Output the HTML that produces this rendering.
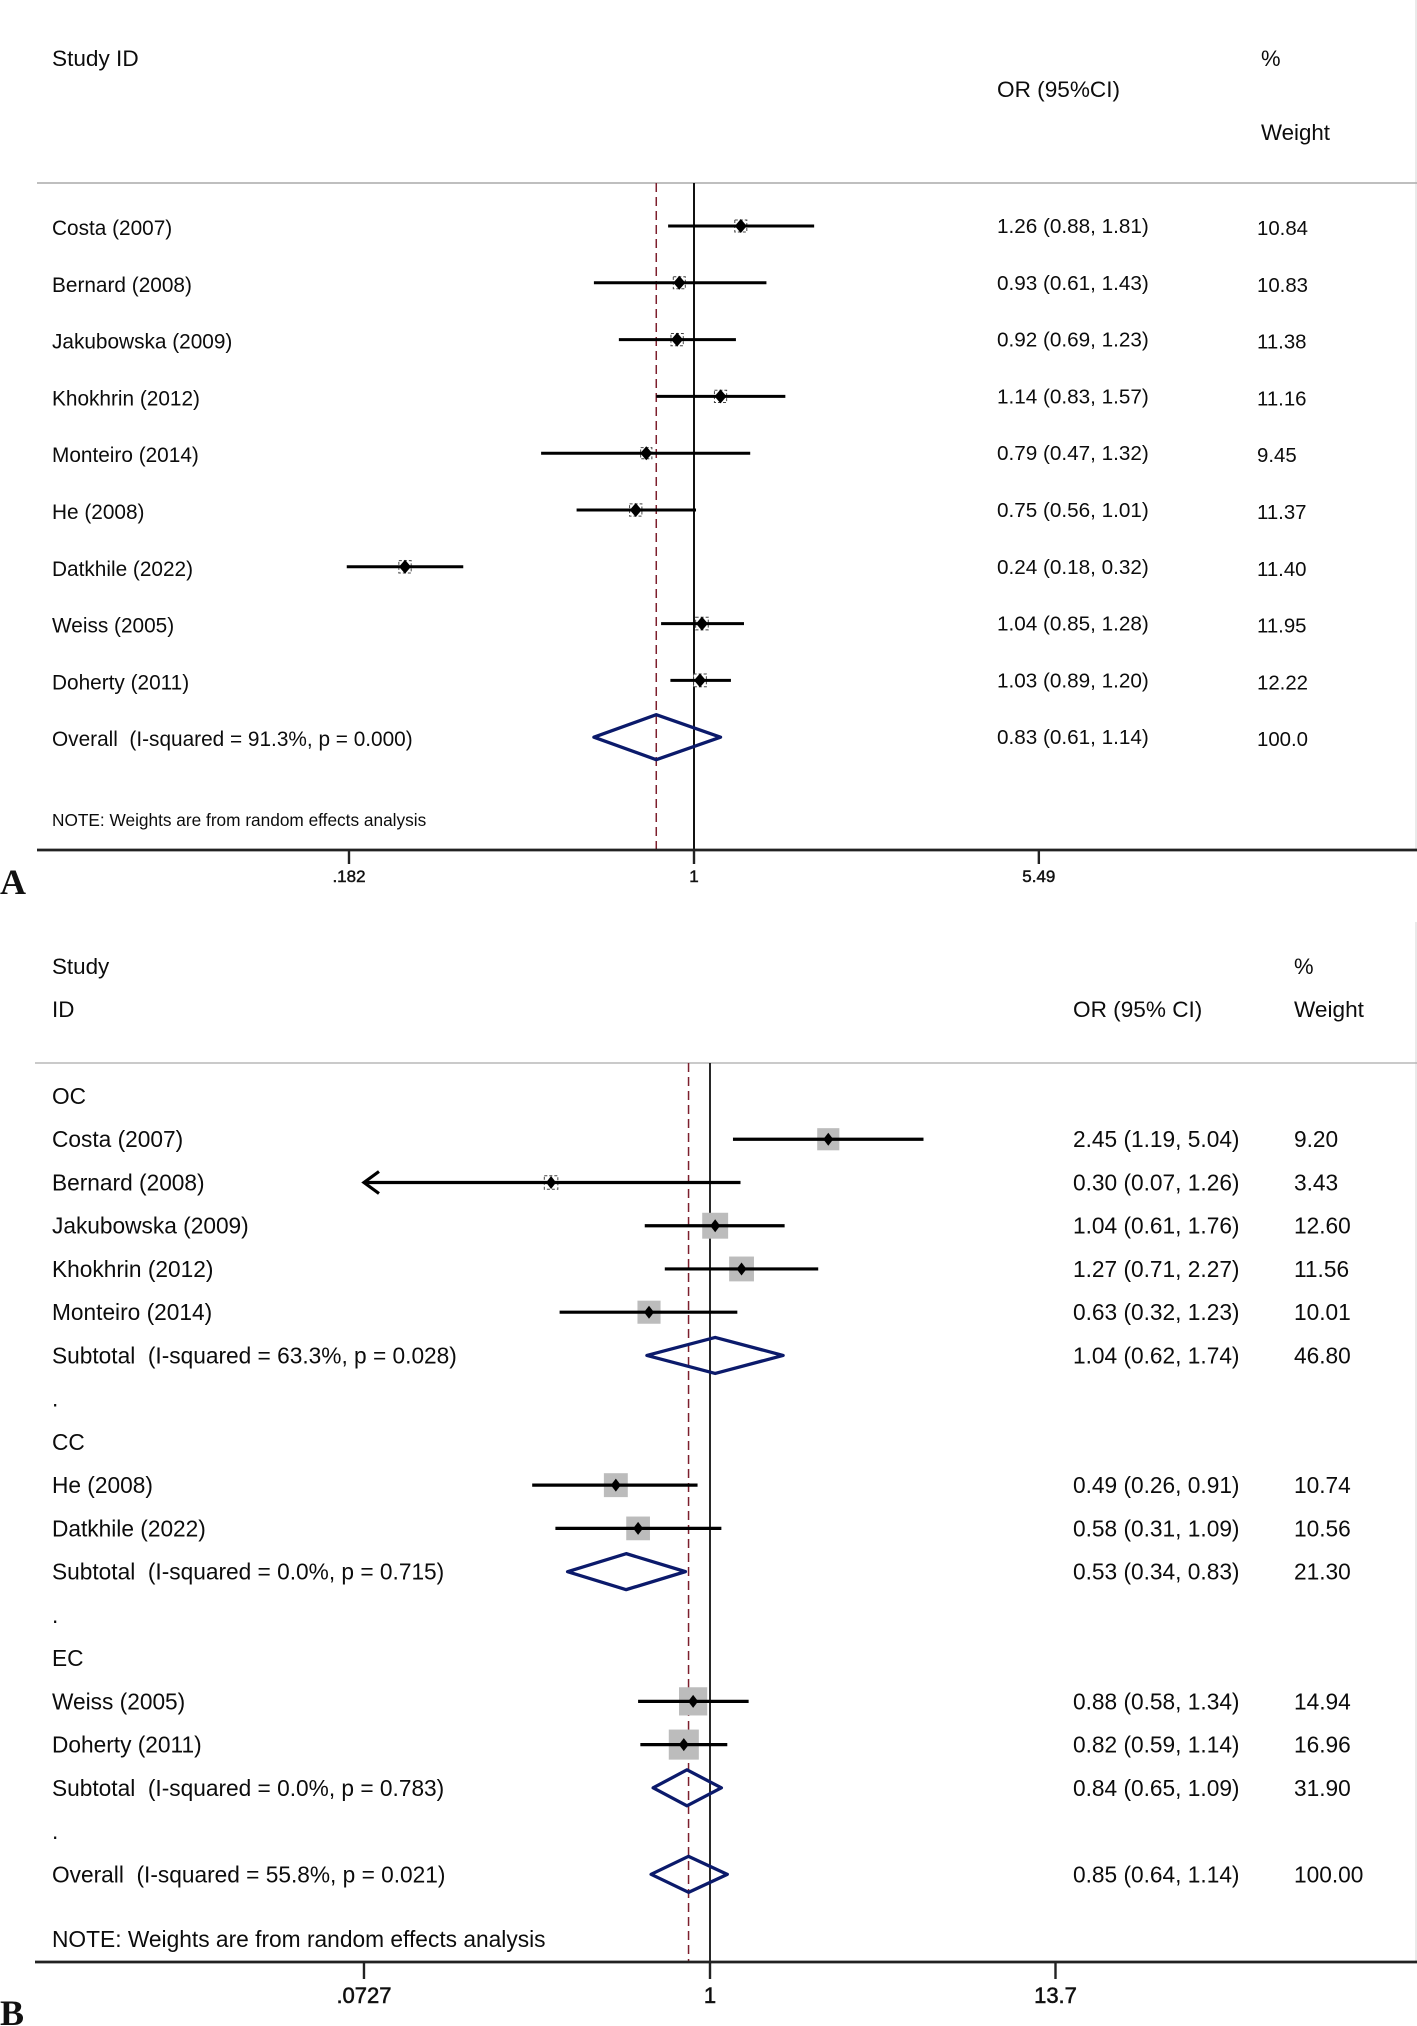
<!DOCTYPE html>
<html lang="en">
<head>
<meta charset="utf-8">
<title>Forest plots A and B</title>
<style>
  html, body { margin: 0; padding: 0; background: #fff; }
  svg { display: block; }
  text { font-family: "Liberation Sans", sans-serif; fill: #0c0c0c; }
  .panel-letter { font-family: "Liberation Serif", serif; font-weight: bold; font-size: 36px; fill: #111; }
  .tick-a { font-size: 17px; text-anchor: middle; stroke: #222; stroke-width: .5px; }
  .tick-b { font-size: 22px; text-anchor: middle; stroke: #222; stroke-width: .6px; }
</style>
</head>
<body>
<svg id="chart" xmlns="http://www.w3.org/2000/svg" width="1417" height="2026" viewBox="0 0 1417 2026">
  <rect x="0" y="0" width="1417" height="2026" fill="#fff"/>
  <line x1="1416" y1="0" x2="1416" y2="850" stroke="#d4d4d4" stroke-width="1"/>
  <line x1="1416" y1="922" x2="1416" y2="1962" stroke="#d4d4d4" stroke-width="1"/>

  <g>
    <text x="52" y="66" font-size="22.6">Study ID</text>
    <text x="997" y="97" font-size="22.6">OR (95%CI)</text>
    <text x="1261" y="66" font-size="22">%</text>
    <text x="1261" y="140" font-size="22.3">Weight</text>
    <line x1="37" y1="183" x2="1417" y2="183" stroke="#aaa" stroke-width="1.6"/>
  </g>
  <g id="panel-a"></g>
  <text x="52" y="826" font-size="17.25">NOTE: Weights are from random effects analysis</text>
  <text class="panel-letter" x="0" y="894">A</text>

  <g>
    <text x="52" y="974" font-size="22.4">Study</text>
    <text x="52" y="1017" font-size="22.4">ID</text>
    <text x="1073" y="1017" font-size="22.6">OR (95% CI)</text>
    <text x="1294" y="974" font-size="22">%</text>
    <text x="1294" y="1017" font-size="22.6">Weight</text>
    <line x1="35" y1="1063" x2="1417" y2="1063" stroke="#aaa" stroke-width="1.2"/>
  </g>
  <g id="panel-b"></g>
  <text x="52" y="1947" font-size="22.75">NOTE: Weights are from random effects analysis</text>
  <text class="panel-letter" x="0" y="2025">B</text>
</svg>

<script>
// Panel A data
const studiesA = ['Costa (2007)', 'Bernard (2008)', 'Jakubowska (2009)', 'Khokhrin (2012)', 'Monteiro (2014)', 'He (2008)', 'Datkhile (2022)', 'Weiss (2005)', 'Doherty (2011)', 'Overall  (I-squared = 91.3%, p = 0.000)'];
const orA = [1.26, 0.93, 0.92, 1.14, 0.79, 0.75, 0.24, 1.04, 1.03, 0.83];
const lowA = [0.88, 0.61, 0.69, 0.83, 0.47, 0.56, 0.18, 0.85, 0.89, 0.61];
const highA = [1.81, 1.43, 1.23, 1.57, 1.32, 1.01, 0.32, 1.28, 1.20, 1.14];
const weightA = [10.84, 10.83, 11.38, 11.16, 9.45, 11.37, 11.40, 11.95, 12.22, 100.0];
const weightLabelsA = ['10.84', '10.83', '11.38', '11.16', '9.45', '11.37', '11.40', '11.95', '12.22', '100.0'];
const kindsA = ['study', 'study', 'study', 'study', 'study', 'study', 'study', 'study', 'study', 'pooled'];
const tickValuesA = [0.182, 1, 5.49];
const tickLabelsA = ['.182', '1', '5.49'];
const pooledA = 0.83;

// Panel B data (null = text-only row)
const studiesB = ['OC', 'Costa (2007)', 'Bernard (2008)', 'Jakubowska (2009)', 'Khokhrin (2012)', 'Monteiro (2014)', 'Subtotal  (I-squared = 63.3%, p = 0.028)', '.', 'CC', 'He (2008)', 'Datkhile (2022)', 'Subtotal  (I-squared = 0.0%, p = 0.715)', '.', 'EC', 'Weiss (2005)', 'Doherty (2011)', 'Subtotal  (I-squared = 0.0%, p = 0.783)', '.', 'Overall  (I-squared = 55.8%, p = 0.021)'];
const orB = [null, 2.45, 0.30, 1.04, 1.27, 0.63, 1.04, null, null, 0.49, 0.58, 0.53, null, null, 0.88, 0.82, 0.84, null, 0.85];
const lowB = [null, 1.19, 0.07, 0.61, 0.71, 0.32, 0.62, null, null, 0.26, 0.31, 0.34, null, null, 0.58, 0.59, 0.65, null, 0.64];
const highB = [null, 5.04, 1.26, 1.76, 2.27, 1.23, 1.74, null, null, 0.91, 1.09, 0.83, null, null, 1.34, 1.14, 1.09, null, 1.14];
const weightB = [null, 9.20, 3.43, 12.60, 11.56, 10.01, 46.80, null, null, 10.74, 10.56, 21.30, null, null, 14.94, 16.96, 31.90, null, 100.00];
const kindsB = ['text', 'study', 'study', 'study', 'study', 'study', 'pooled', 'text', 'text', 'study', 'study', 'pooled', 'text', 'text', 'study', 'study', 'pooled', 'text', 'pooled'];
const tickValuesB = [0.0727, 1, 13.7];
const tickLabelsB = ['.0727', '1', '13.7'];
const pooledB = 0.85;

const NS = 'http://www.w3.org/2000/svg';
function el(parent, tag, attrs, text) {
  const node = document.createElementNS(NS, tag);
  for (const k in attrs) node.setAttribute(k, attrs[k]);
  if (text !== undefined) node.textContent = text;
  parent.appendChild(node);
  return node;
}
function fmt(or, lo, hi) {
  return or.toFixed(2) + ' (' + lo.toFixed(2) + ', ' + hi.toFixed(2) + ')';
}
function drawPanel(cfg) {
  const g = cfg.group;
  const x = v => cfg.x1 + cfg.unit * Math.log(v);
  const y = i => cfg.y0 + cfg.step * i;

  const nullLine = el(g, 'line', { x1: x(1), y1: cfg.top, x2: x(1), y2: cfg.axisY, stroke: '#111', 'stroke-width': cfg.nullWidth });
  
  

  const pooledLine = el(g, 'line', { x1: x(cfg.pooled), y1: cfg.top, x2: x(cfg.pooled), y2: cfg.axisY, stroke: '#7d1f2d', 'stroke-width': 1.5, 'stroke-dasharray': '9 5' });
  
  

  const axis = el(g, 'line', { x1: cfg.axisLeft, y1: cfg.axisY, x2: 1417, y2: cfg.axisY, stroke: '#222', 'stroke-width': 2.8 });
  
  

  cfg.tickValues.forEach((v, i) => {
    const tick = el(g, 'line', { x1: x(v), y1: cfg.axisY, x2: x(v), y2: cfg.axisY + cfg.tickLen, stroke: '#222', 'stroke-width': 2.4 });
    
    
    const label = el(g, 'text', { x: x(v), y: cfg.tickTextY, class: cfg.tickClass }, cfg.tickLabels[i]);
    
    
  });

  cfg.studies.forEach((name, i) => {
    const label = el(g, 'text', { x: 52, y: y(i) + cfg.labelDy, 'font-size': cfg.labelSize, 'xml:space': 'preserve', style: 'white-space:pre' }, name);
    
    

    const or = cfg.or[i];
    if (or === null) return;
    const lo = cfg.low[i], hi = cfg.high[i], w = cfg.weight[i];

    const ciText = el(g, 'text', { x: cfg.orX, y: y(i) + cfg.valueDy, 'font-size': cfg.valueSize }, fmt(or, lo, hi));
    
    

    const wText = el(g, 'text', { x: cfg.wX, y: y(i) + cfg.weightDy, 'font-size': cfg.weightSize }, cfg.weightLabels ? cfg.weightLabels[i] : w.toFixed(2));
    
    

    if (cfg.kinds[i] === 'pooled') {
      const d = cfg.diamondH;
      const pts = [[x(lo), y(i)], [x(or), y(i) - d], [x(hi), y(i)], [x(or), y(i) + d]].map(p => p.join(',')).join(' ');
      const diamond = el(g, 'polygon', { points: pts, fill: 'none', stroke: '#0b1a6b', 'stroke-width': 3.3, 'stroke-linejoin': 'round' });
      
      
      return;
    }

    const size = cfg.boxScale * Math.sqrt(w);
    const box = el(g, 'rect', { x: x(or) - size / 2, y: y(i) - size / 2, width: size, height: size });
    if (size < cfg.outlineBelow) {
      box.setAttribute('fill', '#fff');
      box.setAttribute('stroke', '#444');
      box.setAttribute('stroke-width', '1');
      box.setAttribute('stroke-dasharray', '3 2');
    } else {
      box.setAttribute('fill', '#bcbcbc');
    }
    
    

    const clipped = lo < cfg.clipAt;
    const left = clipped ? x(cfg.clipAt) : x(lo);
    const ci = el(g, 'line', { x1: left, y1: y(i), x2: x(hi), y2: y(i), stroke: '#000', 'stroke-width': cfg.ciWidth });
    
    

    if (clipped) {
      const arrow = el(g, 'polyline', { points: [[left + 15, y(i) - 11], [left, y(i)], [left + 15, y(i) + 11]].map(p => p.join(',')).join(' '), fill: 'none', stroke: '#000', 'stroke-width': 3.2 });
      
      
    }

    const pts = [[x(or) - cfg.dotW, y(i)], [x(or), y(i) - cfg.dotH], [x(or) + cfg.dotW, y(i)], [x(or), y(i) + cfg.dotH]].map(p => p.join(',')).join(' ');
    const dot = el(g, 'polygon', { points: pts, fill: '#000' });
    
    
  });
}

drawPanel({
  group: document.getElementById('panel-a'),
  studies: studiesA, or: orA, low: lowA, high: highA, weight: weightA, weightLabels: weightLabelsA, kinds: kindsA,
  tickValues: tickValuesA, tickLabels: tickLabelsA, pooled: pooledA, clipAt: 0,
  x1: 694, unit: 202.5, y0: 226, step: 56.8, top: 183, axisY: 850, axisLeft: 37,
  tickLen: 14, tickTextY: 882, tickClass: 'tick-a', nullWidth: 2,
  labelDy: 9, labelSize: 20.8, valueDy: 7, valueSize: 20.7, weightDy: 9, weightSize: 20.4,
  orX: 997, wX: 1257, diamondH: 22.5, boxScale: 3.65, outlineBelow: 99,
  ciWidth: 3, dotW: 6, dotH: 7
});

drawPanel({
  group: document.getElementById('panel-b'),
  studies: studiesB, or: orB, low: lowB, high: highB, weight: weightB, kinds: kindsB,
  tickValues: tickValuesB, tickLabels: tickLabelsB, pooled: pooledB, clipAt: tickValuesB[0],
  x1: 710, unit: 132, y0: 1096, step: 43.24, top: 1063, axisY: 1962, axisLeft: 35,
  tickLen: 17, tickTextY: 2003, tickClass: 'tick-b', nullWidth: 1.8,
  labelDy: 8, labelSize: 22.7, valueDy: 8, valueSize: 22.7, weightDy: 8, weightSize: 22.7,
  orX: 1073, wX: 1294, diamondH: 18, boxScale: 7.3, outlineBelow: 16,
  ciWidth: 3.2, dotW: 5, dotH: 6.5
});
</script>
</body>
</html>
